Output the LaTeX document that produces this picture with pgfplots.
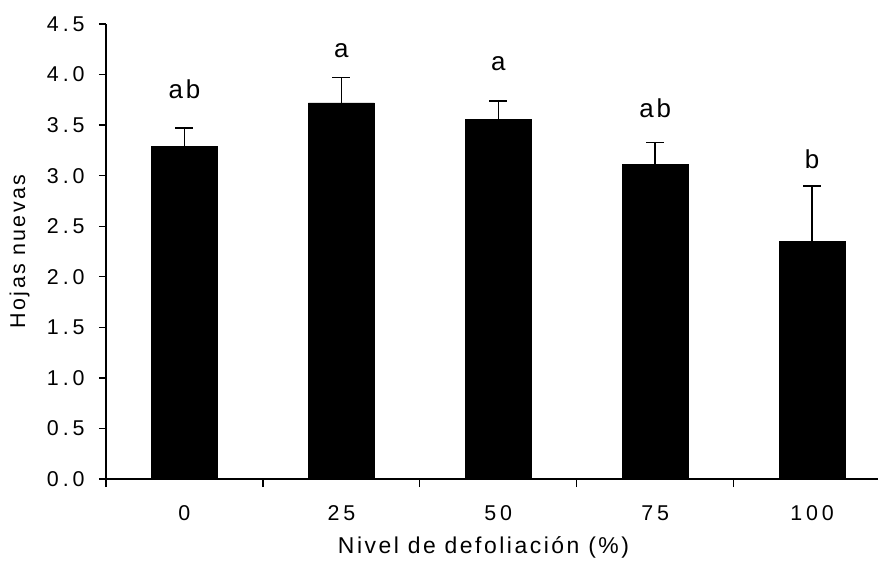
\documentclass[border=0pt]{standalone}
\usepackage{fontspec}
\setmainfont{Liberation Sans}[LetterSpace=11]
\newfontfamily\tickfont{Liberation Sans}[LetterSpace=18]
\usepackage{pgfplots}
\pgfplotsset{compat=1.18}
\begin{document}
\begin{tikzpicture}
\begin{axis}[
  scale only axis,
  width=772bp, height=455bp,
  xmin=-0.5, xmax=4.42,
  ymin=0, ymax=4.5,
  axis x line=bottom, axis y line=left,
  axis line style={-, line width=1.3pt},
  tick style={line width=1.3pt, black},
  tick align=outside,
  xtick={0,1,2,3,4},
  xticklabels={0,25,50,75,100},
  major x tick style={draw=none},
  minor xtick={-0.5,0.5,1.5,2.5,3.5},
  minor tick length=8bp,
  major tick length=7bp,
  ytick={0,0.5,...,4.5},
  yticklabel style={/pgf/number format/fixed, /pgf/number format/fixed zerofill, /pgf/number format/precision=1, xshift=-11bp},
  /pgf/number format/assume math mode=true,
  ticklabel style={font=\tickfont\fontsize{21.5}{25}\selectfont},
  xticklabel style={yshift=-16bp},
  xlabel={Nivel de defoliación (\%)},
  ylabel={Hojas nuevas},
  every axis x label/.style={at={(axis description cs:0.489,-0.151)}, anchor=center, font=\fontsize{23}{27}\selectfont},
  every axis y label/.style={at={(axis description cs:-0.112,0.5)}, rotate=90, anchor=center, font=\fontsize{21.5}{25}\selectfont},
  clip=false,
]
\addplot[ybar, bar width=0.42, fill=black, draw=black,
  error bars/.cd, y dir=plus, y explicit,
  error bar style={line width=1.5pt, black},
  error mark options={rotate=90, mark size=9bp, line width=1.5pt, black}]
  coordinates {
  (0,3.29) +- (0,0.18)
  (1,3.72) +- (0,0.25)
  (2,3.56) +- (0,0.18)
  (3,3.11) +- (0,0.22)
  (4,2.35) +- (0,0.55)
  };
\node[font=\fontsize{26}{30}\selectfont] at (axis cs:0,3.85) {ab};
\node[font=\fontsize{26}{30}\selectfont] at (axis cs:1,4.24) {a};
\node[font=\fontsize{26}{30}\selectfont] at (axis cs:2,4.11) {a};
\node[font=\fontsize{26}{30}\selectfont] at (axis cs:3,3.67) {ab};
\node[font=\fontsize{26}{30}\selectfont] at (axis cs:4,3.16) {b};
\end{axis}
\pgfresetboundingbox
\path[use as bounding box] (-106bp,-91bp) rectangle (772bp,479bp);
\end{tikzpicture}
\end{document}
